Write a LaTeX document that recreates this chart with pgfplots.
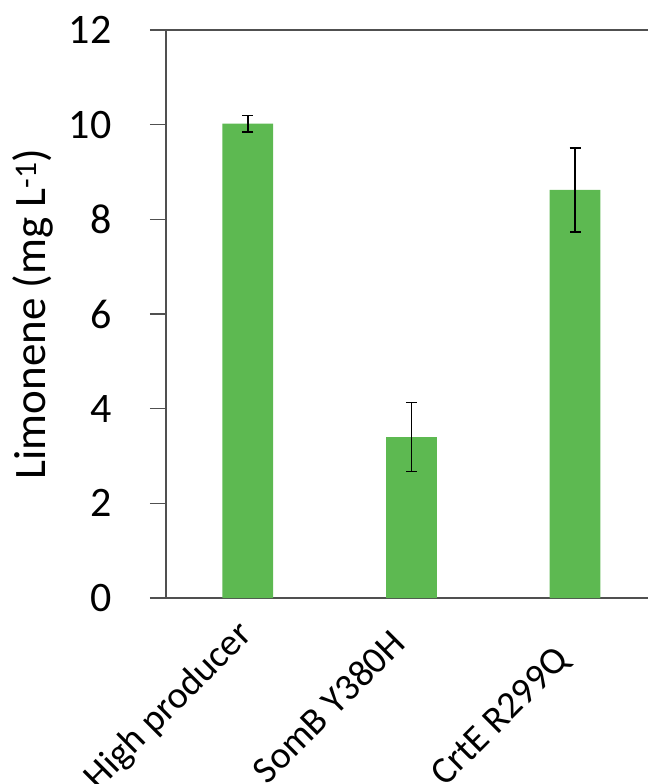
\documentclass[border=0pt]{standalone}
\usepackage{fontspec}
\setmainfont{Carlito}
\usepackage{pgfplots}
\pgfplotsset{compat=1.18}
\definecolor{barg}{RGB}{93,185,81}
\definecolor{axg}{RGB}{80,80,80}
\begin{document}
\begin{tikzpicture}
\begin{axis}[
  scale only axis, width=482pt, height=568pt,
  xmin=-0.5, xmax=2.446, ymin=0, ymax=12,
  axis x line*=bottom, axis y line*=left,
  axis line style={axg, line width=1.5pt, -},
  ytick={0,2,...,12}, tick align=outside, major tick length=16pt,
  ytick style={axg, line width=1.5pt},
  xtick={0,1}, xticklabels={High producer, SomB Y380H\hspace*{14pt}},
  xtick style={draw=none},
  x tick label style={rotate=45, anchor=north east, font=\fontsize{38}{46}\selectfont, xshift=-8pt, yshift=10pt},
  extra x ticks={2}, extra x tick labels={CrtE R299Q\hspace*{21pt}},
  extra x tick style={tick style={draw=none}, tick label style={xshift=6pt, yshift=-12pt}},
  y tick label style={font=\fontsize{42}{50}\selectfont, xshift=-35pt},
  /pgf/number format/assume math mode=true,
  ylabel={Limonene (mg L\textsuperscript{-1})},
  ylabel style={font=\fontsize{45}{54}\selectfont, at={(rel axis cs:-0.249,0.5)}, anchor=base},
  clip=false,
]
\addplot[ybar, bar width=0.31, fill=barg, draw=none,
  error bars/.cd, y dir=both, y explicit, error mark=-,
  error bar style={draw=black, line width=1.5pt},
  error mark options={rotate=90, draw=black, line width=1.5pt, mark size=5.5pt}]
  coordinates {(0,10.02) +- (0,0.17) (1,3.40) +- (0,0.73) (2,8.62) +- (0,0.89)};
\draw[axg, line width=1.5pt] (rel axis cs:0,1) -- (rel axis cs:1,1);
\coordinate (ll) at (rel axis cs:0,0);
\coordinate (ur) at (rel axis cs:1,1);
\end{axis}
\pgfresetboundingbox
\path[use as bounding box] ([xshift=-166pt,yshift=-186pt]ll) rectangle ([yshift=30pt]ur);
\end{tikzpicture}
\end{document}
